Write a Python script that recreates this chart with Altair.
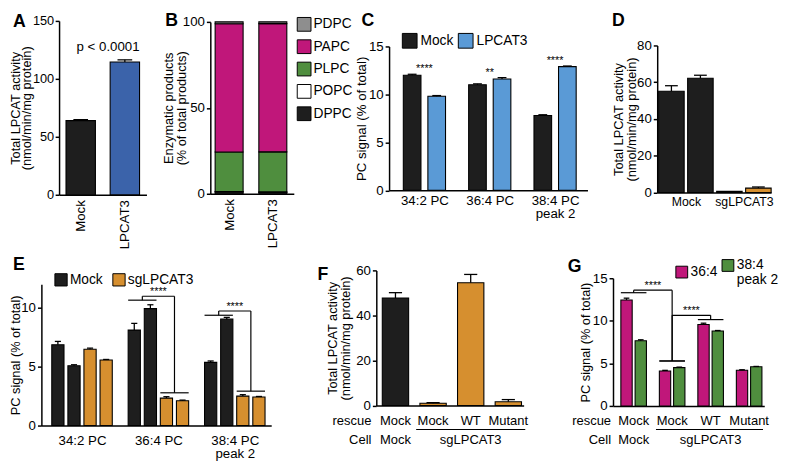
import json
import pandas as pd
import altair as alt

FONT = "Liberation Sans"
BLK = "#1e1e1e"
BLUE_A = "#3b63aa"
BLUE_C = "#5a9ad6"
ORANGE = "#d68f2f"
MAGENTA = "#c0177a"
GREEN = "#4f8e3e"
GRAY = "#8e8e8e"

TICK_FS = 13.5
TITLE_FS = 13
LEG_FS = 14
LETTER_FS = 18

# whole drawing area (plot coordinates); every panel gets its own scales in it
W, H = 777, 446

# ---------------- data ----------------
a_cats = ["Mock", "LPCAT3"]
a_vals = [64.0, 114.5]
a_errs = [0.8, 1.9]
a_pvalue = "p < 0.0001"
a_pvalue_y = 127

b_cats = ["Mock", "LPCAT3"]
b_species = ["DPPC", "POPC", "PLPC", "PAPC", "PDPC"]  # bottom -> top
b_mock = [1.0, 0.3, 23.0, 74.6, 1.1]
b_lpcat3 = [0.8, 0.3, 23.3, 74.6, 1.0]
b_legend_order = ["PDPC", "PAPC", "PLPC", "POPC", "DPPC"]

c_groups = [["34:2 PC"], ["36:4 PC"], ["38:4 PC", "peak 2"]]
c_series = ["Mock", "LPCAT3"]
c_mock = [12.0, 11.0, 7.8]
c_mock_err = [0.1, 0.1, 0.08]
c_lpcat3 = [9.8, 11.6, 12.9]
c_lpcat3_err = [0.08, 0.15, 0.06]
c_sig = ["****", "**", "****"]

d_groups = ["Mock", "sgLPCAT3"]
d_cells = ["Mock", "Mock", "sgLPCAT3", "sgLPCAT3"]
d_vals = [55.1, 62.2, 0.6, 2.4]
d_errs = [3.0, 1.6, 0.0, 0.6]

e_groups = [["34:2 PC"], ["36:4 PC"], ["38:4 PC", "peak 2"]]
e_cells = ["Mock", "Mock", "sgLPCAT3", "sgLPCAT3"]
e_vals = [[6.86, 5.08, 6.47, 5.56], [8.1, 9.92, 2.33, 2.11], [5.36, 9.03, 2.5, 2.42]]
e_errs = [[0.28, 0.08, 0.1, 0.05], [0.57, 0.33, 0.12, 0.05], [0.12, 0.15, 0.12, 0.05]]
e_sig_group = [1, 2]
e_sig_mock_line = [10.64, 9.36]
e_sig_top = [10.97, 9.72]
e_sig_sg_line = [2.78, 2.92]
e_sig_text = ["****", "****"]

f_rescue = ["Mock", "Mock", "WT", "Mutant"]
f_cell = ["Mock", "sgLPCAT3", "sgLPCAT3", "sgLPCAT3"]
f_vals = [47.7, 1.0, 54.5, 1.6]
f_errs = [2.4, 0.25, 3.7, 1.0]

g_rescue = ["Mock", "Mock", "WT", "Mutant"]
g_cell = ["Mock", "sgLPCAT3", "sgLPCAT3", "sgLPCAT3"]
g_series = ["36:4", "38:4 peak 2"]
g_series_lines = [["36:4"], ["38:4", "peak 2"]]
g_364 = [12.44, 4.1, 9.57, 4.2]
g_364_err = [0.22, 0.08, 0.15, 0.05]
g_384 = [7.65, 4.5, 8.8, 4.6]
g_384_err = [0.12, 0.06, 0.06, 0.04]
g_sig_from = [0, 1]
g_sig_to = [1, 2]
g_sig_from_line = [13.3, 5.28]
g_sig_top = [13.6, 10.64]
g_sig_to_line = [5.28, 10.14]
g_sig_text = ["****", "****"]


# ---------------- helpers ----------------
def lab_expr(values, labels):
    return f"{json.dumps(labels)}[indexof({json.dumps(values)}, datum.value)]"


def scale(domain, rng):
    return alt.Scale(domain=domain, range=rng, nice=False, zero=False)


def y_axis(xpos, values, title, tx, lh=13, fs=TITLE_FS, lfs=TICK_FS, lpad=2):
    # tx = left edge of the (rotated) title block, relative to the axis line
    return alt.Axis(orient="left", offset=-xpos, values=values, title=title, titleX=tx,
                    titleBaseline="top", titleFontSize=fs, titleLineHeight=lh,
                    tickSize=4, labelPadding=lpad, labelFontSize=lfs)


def x_axis(ybottom, values=None, labels=None, angle=0, pad=4, lh=14, fs=TICK_FS):
    if values is None:
        return alt.Axis(orient="bottom", offset=ybottom - H, labels=False, ticks=False,
                        tickSize=0, title=None, values=[])
    return alt.Axis(orient="bottom", offset=ybottom - H, values=values,
                    labelExpr=lab_expr(values, labels), labelAngle=angle,
                    ticks=False, tickSize=0, labelPadding=pad, labelLineHeight=lh,
                    labelFontSize=fs, title=None)


def bar_frame(centers, half, vals, errs, keys, cap=0.5):
    return pd.DataFrame({
        "x0": [c - half for c in centers], "x1": [c + half for c in centers],
        "xc": centers, "v": vals, "base": [0.0] * len(vals),
        "top": [v + e for v, e in zip(vals, errs)],
        "c0": [c - half * cap for c in centers], "c1": [c + half * cap for c in centers],
        "k": keys})


class Panel:
    def __init__(self, xs, ys, xax, yax):
        self.xs, self.ys, self.xax, self.yax = xs, ys, xax, yax

    def X(self, f):
        return alt.X(f, scale=self.xs, axis=self.xax)

    def Y(self, f):
        return alt.Y(f, scale=self.ys, axis=self.yax)

    def bars(self, df, color):
        bars = alt.Chart(df).mark_bar(stroke="black", strokeWidth=1.1).encode(
            x=self.X("x0:Q"), x2="x1", y=self.Y("v:Q"), y2="base", color=color)
        edf = df[df["top"] > df["v"]]
        err = alt.Chart(edf).mark_rule(color="black", strokeWidth=1.3).encode(
            x=self.X("xc:Q"), y=self.Y("v:Q"), y2="top")
        cap = alt.Chart(edf).mark_rule(color="black", strokeWidth=1.3).encode(
            x=self.X("c0:Q"), x2="c1", y=self.Y("top:Q"))
        return [bars, err, cap]

    def segs(self, segs):
        df = pd.DataFrame(segs, columns=["x", "x2", "y", "y2"])
        return alt.Chart(df).mark_rule(color="black", strokeWidth=1.2).encode(
            x=self.X("x:Q"), x2="x2", y=self.Y("y:Q"), y2="y2")

    def text(self, df, **mk):
        return alt.Chart(df).mark_text(color="black", **mk).encode(
            x=self.X("x:Q"), y=self.Y("y:Q"), text="t:N")

    def row_text(self, df, ypix, **mk):
        return alt.Chart(df).mark_text(color="black", fontSize=13.2, baseline="middle", **mk).encode(
            x=self.X("x:Q"), y=alt.value(ypix), text="t:N")

    def cell_rows(self, rescue, cell, xmin, dx, pad_l, pad_r, y1, y2, yline):
        n = len(rescue)
        runs, start = [], 0
        for i in range(1, n + 1):
            if i == n or cell[i] != cell[start]:
                runs.append((start, i - 1, cell[start]))
                start = i
        r1 = pd.DataFrame({"x": list(range(n)), "t": rescue})
        r2 = pd.DataFrame({"x": [(a + b) / 2 for a, b, _ in runs], "t": [c for _, _, c in runs]})
        ln = pd.DataFrame({"x": [a - pad_l for a, b, _ in runs if b > a],
                           "x2": [b + pad_r for a, b, _ in runs if b > a]})
        h1 = pd.DataFrame({"x": [xmin], "t": ["rescue"]})
        h2 = pd.DataFrame({"x": [xmin], "t": ["Cell"]})
        return [
            self.row_text(r1, y1, align="center"),
            self.row_text(r2, y2, align="center"),
            self.row_text(h1, y1, align="right", dx=dx),
            self.row_text(h2, y2, align="right", dx=dx),
            alt.Chart(ln).mark_rule(color="black", strokeWidth=1.2).encode(
                x=self.X("x:Q"), x2="x2", y=alt.value(yline)),
        ]


def letter(ch, x, y):
    return alt.Chart(pd.DataFrame({"t": [ch]})).mark_text(
        align="left", baseline="alphabetic", fontSize=LETTER_FS, fontWeight="bold", color="black"
    ).encode(text="t:N", x=alt.value(x), y=alt.value(y))


def legend(x, y, size, direction, offset=2, colpad=2, rowpad=2, expr=None):
    kw = dict(orient="none", legendX=x, legendY=y, direction=direction, title=None,
              symbolType="square", symbolSize=size, symbolStrokeColor="black",
              symbolStrokeWidth=1, symbolOpacity=1, labelFontSize=LEG_FS,
              labelOffset=offset, columnPadding=colpad, rowPadding=rowpad, padding=0)
    if expr:
        kw["labelExpr"] = expr
    return alt.Legend(**kw)


# ---------------- panel A ----------------
pA = Panel(scale([-0.49, 1.49], [50, 139]), scale([0, 150], [185, 8]),
           x_axis(185, [0, 1], a_cats, angle=-90, pad=5),
           y_axis(50, [0, 50, 100, 150], ["Total LPCAT activity", "(nmol/min/mg protein)"], -50,
                  lh=11, lfs=13, lpad=1.5))
a_pos = list(range(len(a_cats)))
a_df = bar_frame(a_pos, 0.333, a_vals, a_errs, a_cats)
a_color = alt.Color("k:N", scale=alt.Scale(domain=a_cats, range=[BLK, BLUE_A]), legend=None)
A = alt.layer(
    *pA.bars(a_df, a_color),
    pA.text(pd.DataFrame({"x": [a_pos[1] + 0.333], "y": [a_pvalue_y], "t": [a_pvalue]}),
            align="right", baseline="middle", fontSize=13.5),
)

# ---------------- panel B ----------------
pB = Panel(scale([-0.43, 1.48], [204, 289]), scale([0, 100], [184, 9]),
           x_axis(184, [0, 1], b_cats, angle=-90, pad=5),
           y_axis(204, [0, 50, 100], ["Enzymatic products", "(% of total products)"], -49, lh=14))
rows = []
for i, vals in enumerate([b_mock, b_lpcat3]):
    cum = 0.0
    for sp, v in zip(b_species, vals):
        rows.append({"x0": i - 0.32, "x1": i + 0.32, "y0": cum, "y1": cum + v, "k": sp})
        cum += v
b_df = pd.DataFrame(rows)
b_palette = {"PDPC": GRAY, "PAPC": MAGENTA, "PLPC": GREEN, "POPC": "#ffffff", "DPPC": BLK}
b_color = alt.Color("k:N", scale=alt.Scale(domain=b_legend_order,
                                           range=[b_palette[s] for s in b_legend_order]),
                    legend=legend(292, 4, 196, "vertical", offset=2, rowpad=3.75))
B = alt.Chart(b_df).mark_bar(stroke="black", strokeWidth=1.1).encode(
    x=pB.X("x0:Q"), x2="x1", y=pB.Y("y1:Q"), y2="y0", color=b_color)

# ---------------- panel C ----------------
pC = Panel(scale([-0.541, 2.496], [386, 588]), scale([0, 15], [180.5, 34]),
           x_axis(180.5, [0, 1, 2], c_groups, pad=3),
           y_axis(386, [0, 5, 10, 15], "PC signal (% of total)", -35, fs=13.5))
c_off = [-0.188, 0.188]
centers, vals, errs, keys = [], [], [], []
for g in range(len(c_groups)):
    for s, (sv, se) in enumerate([(c_mock, c_mock_err), (c_lpcat3, c_lpcat3_err)]):
        centers.append(g + c_off[s]); vals.append(sv[g]); errs.append(se[g]); keys.append(c_series[s])
c_df = bar_frame(centers, 0.135, vals, errs, keys)
c_color = alt.Color("k:N", scale=alt.Scale(domain=c_series, range=[BLK, BLUE_C]),
                    legend=legend(399, 20, 225, "horizontal", offset=3, colpad=2))
c_sig_df = pd.DataFrame({"x": list(range(3)),
                         "y": [max(c_mock[g] + c_mock_err[g], c_lpcat3[g] + c_lpcat3_err[g]) for g in range(3)],
                         "t": c_sig})
C = alt.layer(*pC.bars(c_df, c_color),
              pC.text(c_sig_df, align="center", baseline="alphabetic", fontSize=11, dy=-2))

# ---------------- panel D ----------------
pD = Panel(scale([-0.49, 3.44], [659, 775]), scale([0, 80], [182.7, 33]), None, None)
d_pos = list(range(len(d_vals)))
d_label_pos = [sum(p for p, c in zip(d_pos, d_cells) if c == grp) / d_cells.count(grp) for grp in d_groups]
pD.xax = x_axis(182.7, d_label_pos, d_groups, pad=3.5, fs=12.5)
pD.yax = y_axis(659, [0, 20, 40, 60, 80], ["Total LPCAT activity", "(nmol/min/mg protein)"], -45, lh=13)
d_df = bar_frame(d_pos, 0.44, d_vals, d_errs, d_cells)
d_color = alt.Color("k:N", scale=alt.Scale(domain=d_groups, range=[BLK, ORANGE]), legend=None)
D = alt.layer(*pD.bars(d_df, d_color))

# ---------------- panel E ----------------
pE = Panel(scale([-0.532, 2.477], [32, 266]), scale([0, 12], [420, 276]),
           x_axis(420, [0, 1, 2], e_groups, pad=8),
           y_axis(32, [0, 5, 10], "PC signal (% of total)", -32))
e_off = [-0.316, -0.105, 0.105, 0.316]
e_half = 0.08
centers, vals, errs, keys = [], [], [], []
for g in range(len(e_groups)):
    for j in range(4):
        centers.append(g + e_off[j]); vals.append(e_vals[g][j]); errs.append(e_errs[g][j]); keys.append(e_cells[j])
e_df = bar_frame(centers, e_half, vals, errs, keys)
e_color = alt.Color("k:N", scale=alt.Scale(domain=["Mock", "sgLPCAT3"], range=[BLK, ORANGE]),
                    legend=legend(45, 264.25, 156, "horizontal", offset=2, colpad=7))
segs, stars = [], []
for g, ym, yt, ysg, t in zip(e_sig_group, e_sig_mock_line, e_sig_top, e_sig_sg_line, e_sig_text):
    lm = g + (e_off[0] + e_off[1]) / 2
    rm = g + (e_off[2] + e_off[3]) / 2
    segs += [(g + e_off[0] - e_half, g + e_off[1] + e_half, ym, ym),
             (lm, lm, ym, yt), (lm, rm, yt, yt), (rm, rm, yt, ysg),
             (g + e_off[2] - e_half, g + e_off[3] + e_half, ysg, ysg)]
    stars.append({"x": (lm + rm) / 2, "y": yt, "t": t})
E = alt.layer(*pE.bars(e_df, e_color), pE.segs(segs),
              pE.text(pd.DataFrame(stars), align="center", baseline="alphabetic", fontSize=11, dy=-1))

# ---------------- panel F ----------------
pF = Panel(scale([-0.509, 3.407], [373, 523]), scale([0, 60], [399.5, 262]),
           x_axis(399.5),
           y_axis(373, [0, 20, 40, 60], ["Total LPCAT activity", "(nmol/min/mg protein)"], -51, lh=14))
f_pos = list(range(len(f_vals)))
f_df = bar_frame(f_pos, 0.35, f_vals, f_errs, f_cell)
f_color = alt.Color("k:N", scale=alt.Scale(domain=["Mock", "sgLPCAT3"], range=[BLK, ORANGE]), legend=None)
F = alt.layer(*pF.bars(f_df, f_color),
              *pF.cell_rows(f_rescue, f_cell, -0.509, -5, 0.45, 0.45, 415, 435, 424))

# ---------------- panel G ----------------
pG = Panel(scale([-0.536, 3.393], [614, 768]), scale([0, 15], [400, 270]),
           x_axis(400),
           y_axis(614, [0, 5, 10, 15], "PC signal (% of total)", -34))
g_off = [-0.185, 0.185]
g_half = 0.147
centers, vals, errs, keys = [], [], [], []
for i in range(len(g_rescue)):
    for s, (sv, se) in enumerate([(g_364, g_364_err), (g_384, g_384_err)]):
        centers.append(i + g_off[s]); vals.append(sv[i]); errs.append(se[i]); keys.append(g_series[s])
g_df = bar_frame(centers, g_half, vals, errs, keys)
g_color = alt.Color("k:N", scale=alt.Scale(domain=g_series, range=[MAGENTA, GREEN]),
                    legend=legend(677, 249.75, 144, "horizontal", offset=2, colpad=2,
                                  expr=lab_expr(g_series, g_series_lines)))
segs, stars = [], []
span = g_off[1] + g_half
for a, b, ya, yt, yb, t in zip(g_sig_from, g_sig_to, g_sig_from_line, g_sig_top, g_sig_to_line, g_sig_text):
    segs += [(a - span, a + span, ya, ya), (a, a, ya, yt), (a, b, yt, yt),
             (b, b, yt, yb), (b - span, b + span, yb, yb)]
    stars.append({"x": (a + b) / 2, "y": yt, "t": t})
G = alt.layer(*pG.bars(g_df, g_color), pG.segs(segs),
              pG.text(pd.DataFrame(stars), align="center", baseline="alphabetic", fontSize=11, dy=-1),
              *pG.cell_rows(g_rescue, g_cell, -0.536, -2, 0.42, 0.36, 415, 435, 424))

# ---------------- panel letters ----------------
letters = [letter("A", 3, 14.5), letter("B", 158, 13.5), letter("C", 358, 13.5),
           letter("D", 613, 13.5), letter("E", 3, 261.3), letter("F", 313, 271.4),
           letter("G", 568, 263.7)]

chart = alt.layer(A, B, C, D, E, F, G, *letters).resolve_scale(
    x="independent", y="independent", color="independent"
).resolve_axis(x="independent", y="independent").resolve_legend(color="independent").properties(
    width=W, height=H, padding={"left": 2, "top": 0, "right": 0, "bottom": 0})

chart = chart.configure(
    font=FONT, style={"guide-label": {"lineHeight": 14.5}}
).configure_view(stroke=None).configure_axis(
    domainColor="black", domainWidth=1.5, tickColor="black", tickWidth=1.5,
    labelColor="black", titleColor="black", grid=False, labelFontSize=TICK_FS,
    titleFontWeight="normal", labelFlush=False, labelOverlap=False,
    labelFont=FONT, titleFont=FONT,
).configure_legend(labelColor="black", labelFont=FONT)

chart.save("out.html", embed_options={"renderer": "svg", "actions": False})
